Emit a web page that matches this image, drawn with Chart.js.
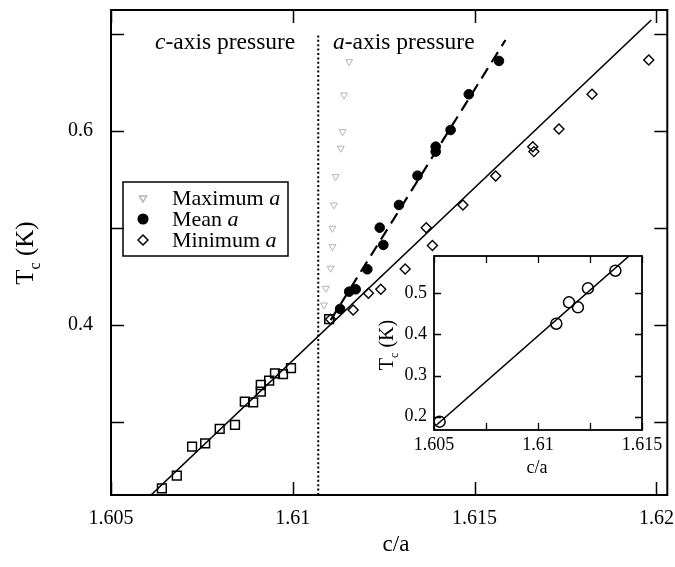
<!DOCTYPE html>
<html lang="en">
<head>
<meta charset="UTF-8">
<title>Tc versus c/a</title>
<style>
  body { margin: 0; background: #fff; }
  .wrap { position: relative; width: 675px; height: 567px; }
  #mainChart { position: absolute; left: 0; top: 0; }
  #insetChart { position: absolute; left: 360px; top: 245px; }
</style>
</head>
<body>
<div class="wrap">
  <canvas id="mainChart" width="675" height="567"></canvas>
  <canvas id="insetChart" width="315" height="240"></canvas>
</div>
<script src="https://cdn.jsdelivr.net/npm/chart.js"></script>
<script>
// c-axis pressure points (open squares)
const caxisCA = [1.6064, 1.60681, 1.60723, 1.60759, 1.60799, 1.60841, 1.60868, 1.60891, 1.60912, 1.60912, 1.60935, 1.60951, 1.60973, 1.60995, 1.6110];
const caxisTc = [0.2316, 0.2447, 0.2745, 0.2780, 0.2928, 0.2969, 0.3209, 0.3203, 0.3312, 0.3381, 0.3426, 0.3502, 0.3492, 0.3554, 0.4060];

// a-axis pressure: maximum, mean and minimum a
const maxCA = [1.61086, 1.61091, 1.61104, 1.61109, 1.61109, 1.61113, 1.61118, 1.61132, 1.61137, 1.61141, 1.61155];
const maxTc = [0.4206, 0.4378, 0.4585, 0.4807, 0.4997, 0.5237, 0.5529, 0.5822, 0.5993, 0.6371, 0.6714];
const meanCA = [1.6113, 1.61155, 1.61173, 1.61205, 1.61239, 1.61249, 1.61292, 1.61343, 1.61393, 1.61393, 1.61434, 1.61484, 1.61567];
const meanTc = [0.4165, 0.4343, 0.4368, 0.4574, 0.5003, 0.4825, 0.5237, 0.5539, 0.5838, 0.5787, 0.6010, 0.6378, 0.6722];
const minCA = [1.61104, 1.61166, 1.61208, 1.61242, 1.61309, 1.61367, 1.61384, 1.61468, 1.61558, 1.6166, 1.61663, 1.61732, 1.61823, 1.61979];
const minTc = [0.4059, 0.4155, 0.4327, 0.4368, 0.4577, 0.5003, 0.4818, 0.5237, 0.5536, 0.5838, 0.5787, 0.6020, 0.6378, 0.6732];

// fits and the c/a boundary between the two pressure directions
const fitCA = [1.6061, 1.61986];
const fitTc = [0.2247, 0.7144];
const meanFitCA = [1.61104, 1.61585];
const meanFitTc = [0.405, 0.6938];
const boundaryCA = [1.6107, 1.6107];
const boundaryTc = [0.2247, 0.701];

// axis ticks
const mainXTicks = [1.605, 1.61, 1.615, 1.62];
const mainYTicks = [0.3, 0.4, 0.5, 0.6, 0.7];
const mainYLabels = [0.4, 0.6];

// inset data
const insetCA = [1.60527, 1.61088, 1.61149, 1.61192, 1.6124, 1.61372];
const insetTc = [0.1878, 0.4261, 0.4781, 0.4660, 0.5122, 0.5550];
const insetFitCA = [1.60512, 1.61438];
const insetFitTc = [0.1798, 0.5908];
const insetXTicks = [1.605, 1.6075, 1.61, 1.6125, 1.615];
const insetXLabels = [1.605, 1.61, 1.615];
const insetYTicks = [0.2, 0.3, 0.4, 0.5];

const legendLabels = ['Maximum', 'Mean', 'Minimum'];

const SERIF = '"Liberation Serif", "Times New Roman", serif';
const pts = (xs, ys) => xs.map((x, i) => ({ x, y: ys[i] }));

// fixed axis box, no extra room for overhanging labels
function fixBox(s, w, h) {
    if (w !== undefined) s.width = w;
    if (h !== undefined) s.height = h;
    s.paddingLeft = s.paddingRight = s.paddingTop = s.paddingBottom = 0;
}

// write runs of roman / italic text one after the other
function drawRuns(ctx, runs, x, y, size) {
    runs.forEach(r => {
        ctx.font = (r.it ? 'italic ' : '') + size + 'px ' + SERIF;
        ctx.fillText(r.t, x, y);
        x += ctx.measureText(r.t).width;
    });
}

// vertical "Tc (K)" with a subscript c
function drawTcTitle(ctx, cx, cy, size) {
    const sub = Math.round(size * 0.62);
    ctx.save();
    ctx.translate(cx, cy);
    ctx.rotate(-Math.PI / 2);
    ctx.fillStyle = '#000';
    ctx.textBaseline = 'alphabetic';
    ctx.font = size + 'px ' + SERIF;
    const wT = ctx.measureText('T').width;
    const wK = ctx.measureText(' (K)').width;
    ctx.font = sub + 'px ' + SERIF;
    const wc = ctx.measureText('c').width;
    let x = -(wT + wc + wK) / 2;
    const base = size * 0.33;
    ctx.font = size + 'px ' + SERIF;
    ctx.fillText('T', x, base);
    x += wT;
    ctx.font = sub + 'px ' + SERIF;
    ctx.fillText('c', x, base + size * 0.28);
    x += wc;
    ctx.font = size + 'px ' + SERIF;
    ctx.fillText(' (K)', x, base);
    ctx.restore();
}

// box round the plot with inward ticks on all four sides
const frameTicks = {
    id: 'frameTicks',
    beforeDraw(chart) {
        const { ctx, chartArea: a } = chart;
        ctx.save();
        ctx.fillStyle = '#fff';
        ctx.fillRect(a.left, a.top, a.right - a.left, a.bottom - a.top);
        ctx.restore();
    },
    afterDraw(chart, args, opts) {
        const { ctx, chartArea: a, scales: { x, y } } = chart;
        ctx.save();
        ctx.strokeStyle = '#000';
        ctx.lineWidth = opts.tickWidth;
        ctx.beginPath();
        x.ticks.forEach(t => {
            const px = Math.round(x.getPixelForValue(t.value)) + 0.5;
            ctx.moveTo(px, a.bottom); ctx.lineTo(px, a.bottom - opts.len);
            ctx.moveTo(px, a.top); ctx.lineTo(px, a.top + opts.len);
        });
        y.ticks.forEach(t => {
            const py = Math.round(y.getPixelForValue(t.value)) + 0.5;
            ctx.moveTo(a.left, py); ctx.lineTo(a.left + opts.len, py);
            ctx.moveTo(a.right, py); ctx.lineTo(a.right - opts.len, py);
        });
        ctx.stroke();
        ctx.lineWidth = opts.frameWidth;
        ctx.strokeRect(a.left, a.top, a.right - a.left, a.bottom - a.top);
        ctx.restore();
    }
};

// region labels, legend and axis titles of the main plot
const mainDecor = {
    id: 'mainDecor',
    afterDraw(chart) {
        const ctx = chart.ctx;
        ctx.save();
        ctx.fillStyle = '#000';
        ctx.textBaseline = 'alphabetic';
        drawRuns(ctx, [{ t: 'c', it: true }, { t: '-axis pressure' }], 155, 49, 23.5);
        drawRuns(ctx, [{ t: 'a', it: true }, { t: '-axis pressure' }], 333, 49, 23.5);

        // legend
        ctx.lineWidth = 1.5;
        ctx.strokeStyle = '#000';
        ctx.strokeRect(123, 182, 165, 74);
        const rows = [198, 219, 240];
        [2, 0, 1].forEach((di, i) => {
            const ds = chart.data.datasets[di];
            ctx.save();
            ctx.fillStyle = ds.backgroundColor;
            ctx.strokeStyle = ds.borderColor;
            Chart.helpers.drawPoint(ctx, {
                pointStyle: ds.pointStyle,
                radius: ds.pointRadius,
                rotation: ds.pointRotation || 0,
                borderWidth: ds.borderWidth
            }, 143, rows[i]);
            ctx.restore();
            ctx.textBaseline = 'middle';
            drawRuns(ctx, [{ t: legendLabels[i] + ' ' }, { t: 'a', it: true }], 172, rows[i] + 1, 22);
        });

        ctx.textAlign = 'center';
        ctx.textBaseline = 'middle';
        ctx.font = '23px ' + SERIF;
        ctx.fillText('c/a', 396, 545);
        ctx.restore();
        drawTcTitle(ctx, 25, 253, 25);
    }
};

const insetDecor = {
    id: 'insetDecor',
    afterDraw(chart) {
        const ctx = chart.ctx;
        ctx.save();
        ctx.fillStyle = '#000';
        ctx.textAlign = 'center';
        ctx.textBaseline = 'middle';
        ctx.font = '18px ' + SERIF;
        ctx.fillText('c/a', 177, 223);
        ctx.restore();
        drawTcTitle(ctx, 26, 100, 20);
    }
};

const tickFont = size => ({ family: SERIF, size: size });

new Chart(document.getElementById('mainChart'), {
    type: 'scatter',
    data: {
        datasets: [
            { label: 'Mean a', data: pts(meanCA, meanTc), pointStyle: 'circle', pointRadius: 4.8,
              backgroundColor: '#000', borderColor: '#000', borderWidth: 1 },
            { label: 'Minimum a', data: pts(minCA, minTc), pointStyle: 'rectRot', pointRadius: 5,
              backgroundColor: 'rgba(0,0,0,0)', borderColor: '#000', borderWidth: 1.4 },
            { label: 'Maximum a', data: pts(maxCA, maxTc), pointStyle: 'triangle', pointRotation: 180, pointRadius: 4,
              backgroundColor: 'rgba(0,0,0,0)', borderColor: '#b4b4b4', borderWidth: 1 },
            { label: 'c-axis', data: pts(caxisCA, caxisTc), pointStyle: 'rect', pointRadius: 6.2,
              backgroundColor: 'rgba(0,0,0,0)', borderColor: '#000', borderWidth: 1.5 },
            { data: pts(fitCA, fitTc), showLine: true, pointRadius: 0, borderColor: '#000', borderWidth: 1.6 },
            { data: pts(meanFitCA, meanFitTc), showLine: true, pointRadius: 0, borderColor: '#000',
              borderWidth: 2.2, borderDash: [12, 7] },
            { data: pts(boundaryCA, boundaryTc), showLine: true, pointRadius: 0, borderColor: '#000',
              borderWidth: 2, borderDash: [2, 2.4] }
        ]
    },
    options: {
        responsive: false,
        animation: false,
        layout: { padding: { left: 0, right: 7, top: 10, bottom: 0 } },
        scales: {
            x: {
                type: 'linear', min: 1.605, max: 1.6203,
                afterFit: s => fixBox(s, undefined, 72),
                afterBuildTicks: s => { s.ticks = mainXTicks.map(v => ({ value: v })); },
                grid: { display: false, drawTicks: false },
                border: { display: false },
                ticks: { color: '#000', font: tickFont(20), padding: 12, maxRotation: 0,
                         callback: v => String(v) }
            },
            y: {
                type: 'linear', min: 0.2247, max: 0.7247,
                afterFit: s => fixBox(s, 111),
                afterBuildTicks: s => { s.ticks = mainYTicks.map(v => ({ value: v })); },
                grid: { display: false, drawTicks: false },
                border: { display: false },
                ticks: { color: '#000', font: tickFont(20), padding: 18,
                         callback: v => mainYLabels.includes(v) ? v.toFixed(1) : '' }
            }
        },
        plugins: {
            legend: { display: false },
            tooltip: { enabled: false },
            frameTicks: { len: 13, tickWidth: 1.5, frameWidth: 2 }
        }
    },
    plugins: [frameTicks, mainDecor]
});

new Chart(document.getElementById('insetChart'), {
    type: 'scatter',
    data: {
        datasets: [
            { data: pts(insetCA, insetTc), pointStyle: 'circle', pointRadius: 5.5,
              backgroundColor: 'rgba(0,0,0,0)', borderColor: '#000', borderWidth: 1.5 },
            { data: pts(insetFitCA, insetFitTc), showLine: true, pointRadius: 0, borderColor: '#000', borderWidth: 1.6 }
        ]
    },
    options: {
        responsive: false,
        animation: false,
        layout: { padding: { left: 0, right: 33, top: 11, bottom: 0 } },
        scales: {
            x: {
                type: 'linear', min: 1.605, max: 1.615,
                afterFit: s => fixBox(s, undefined, 55),
                afterBuildTicks: s => { s.ticks = insetXTicks.map(v => ({ value: v })); },
                grid: { display: false, drawTicks: false },
                border: { display: false },
                ticks: { color: '#000', font: tickFont(18), padding: 4, maxRotation: 0, autoSkip: false,
                         callback: v => insetXLabels.includes(v) ? String(v) : '' }
            },
            y: {
                type: 'linear', min: 0.1676, max: 0.5908,
                afterFit: s => fixBox(s, 74),
                afterBuildTicks: s => { s.ticks = insetYTicks.map(v => ({ value: v })); },
                grid: { display: false, drawTicks: false },
                border: { display: false },
                ticks: { color: '#000', font: tickFont(18), padding: 7,
                         callback: v => v.toFixed(1) }
            }
        },
        plugins: {
            legend: { display: false },
            tooltip: { enabled: false },
            frameTicks: { len: 7, tickWidth: 1.3, frameWidth: 1.8 }
        }
    },
    plugins: [frameTicks, insetDecor]
});
</script>
</body>
</html>
